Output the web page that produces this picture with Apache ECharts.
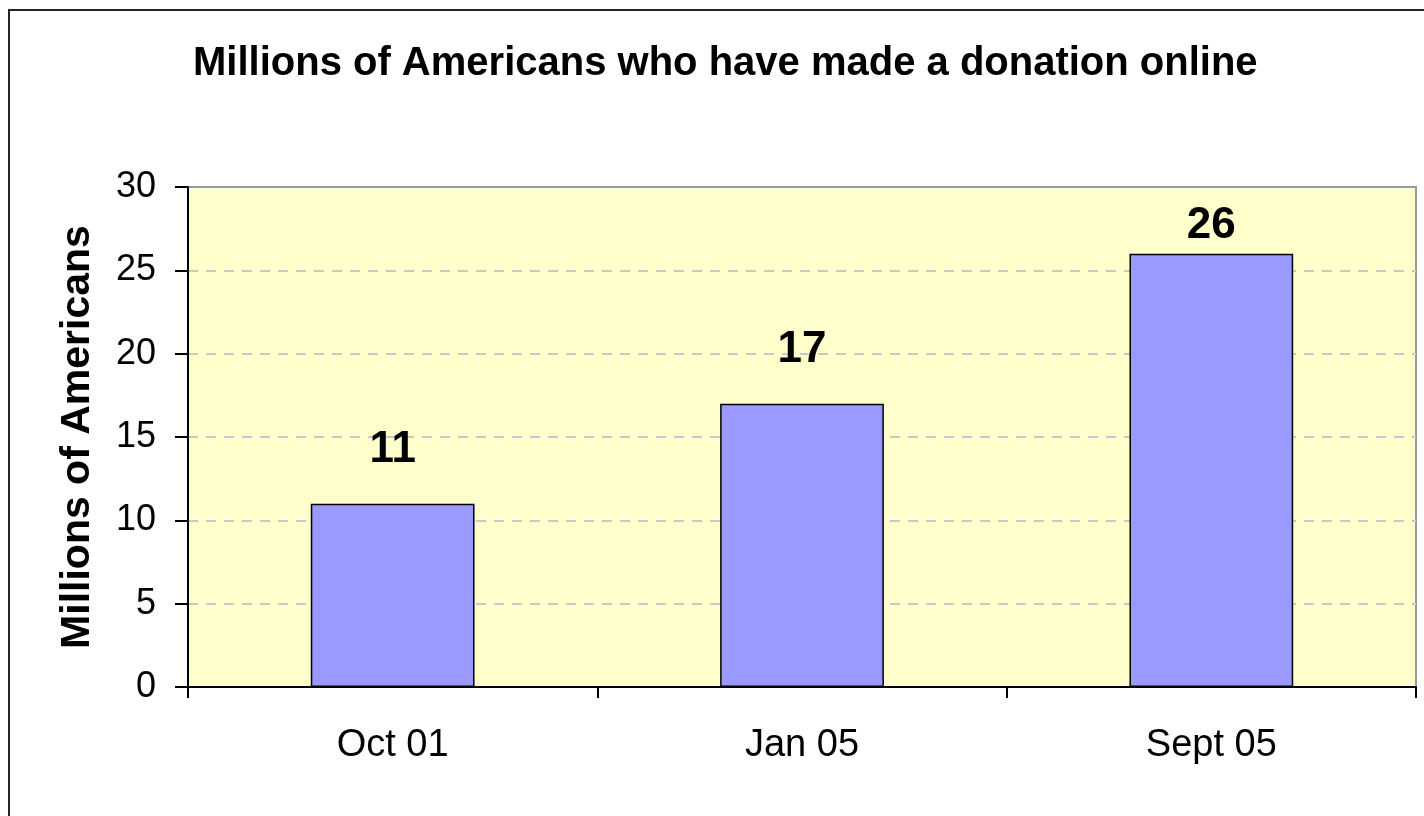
<!DOCTYPE html>
<html>
<head>
<meta charset="utf-8">
<script src="https://cdn.jsdelivr.net/npm/echarts@6/dist/echarts.min.js"></script>
<style>
html,body{margin:0;padding:0;background:#fff;}
#chart{width:1424px;height:816px;}
</style>
</head>
<body>
<div id="chart"></div>
<script>
const titleText = "Millions of Americans who have made a donation online";
const yAxisName = "Millions of Americans";
const categories = ["Oct 01", "Jan 05", "Sept 05"];
const donors = [11, 17, 26];
const yTicks = [0, 5, 10, 15, 20, 25, 30];

const FONT = "'Liberation Sans', Arial, sans-serif";
const chart = echarts.init(document.getElementById('chart'), null, {renderer: 'canvas'});

const seriesData = donors.map(function (v, i) {
  const item = {value: v};
  if (v / yTicks[yTicks.length - 1] > 0.8) {
    item.label = {distance: 6};
  }
  return item;
});

chart.setOption({
  backgroundColor: '#ffffff',
  animation: false,
  textStyle: {fontFamily: FONT},
  title: {
    text: titleText,
    left: 193,
    top: 44,
    padding: 0,
    textStyle: {fontFamily: FONT, fontSize: 40, fontWeight: 'bold', color: '#000'}
  },
  graphic: [{
    type: 'rect',
    shape: {x: 9, y: 10, width: 1500, height: 900},
    style: {fill: 'none', stroke: '#222', lineWidth: 2},
    silent: true,
    z: 100
  }],
  grid: {
    left: 188, top: 187, right: 8, bottom: 129,
    show: true,
    backgroundColor: '#FFFFCC',
    borderColor: '#999999',
    borderWidth: 2
  },
  xAxis: {
    type: 'category',
    data: categories,
    axisLine: {show: true, lineStyle: {color: '#000', width: 2}},
    axisTick: {show: true, length: 11, alignWithLabel: false, lineStyle: {color: '#000', width: 2}},
    axisLabel: {fontFamily: FONT, fontSize: 38, color: '#000', margin: 40},
    splitLine: {show: false}
  },
  yAxis: {
    type: 'value',
    min: yTicks[0],
    max: yTicks[yTicks.length - 1],
    interval: yTicks[1] - yTicks[0],
    name: yAxisName,
    nameLocation: 'middle',
    nameGap: 90,
    nameTextStyle: {fontFamily: FONT, fontSize: 41, fontWeight: 'bold', color: '#000'},
    axisLine: {show: true, lineStyle: {color: '#000', width: 2}},
    axisTick: {show: true, length: 13, lineStyle: {color: '#000', width: 2}},
    axisLabel: {fontFamily: FONT, fontSize: 36, color: '#000', margin: 32},
    splitLine: {show: true, showMinLine: false, showMaxLine: false, lineStyle: {color: '#c8c8c8', width: 2, type: [10, 8]}}
  },
  series: [{
    type: 'bar',
    data: seriesData,
    barWidth: '40%',
    itemStyle: {color: '#9999FF', borderColor: '#000', borderWidth: 1.5},
    label: {
      show: true,
      position: 'top',
      distance: 32,
      fontFamily: FONT,
      fontSize: 44,
      fontWeight: 'bold',
      color: '#000'
    }
  }]
});
</script>
</body>
</html>
